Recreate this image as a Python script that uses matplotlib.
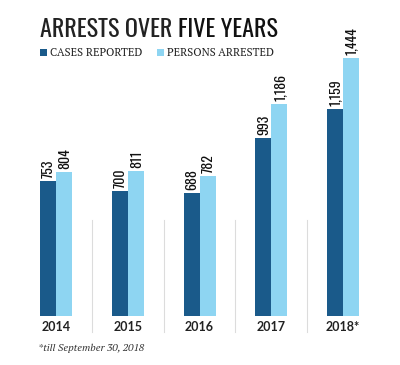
import matplotlib
matplotlib.use("Agg")
import matplotlib.pyplot as plt
from matplotlib import font_manager

# data
years = ["2014", "2015", "2016", "2017", "2018*"]
cases_reported = [753, 700, 688, 993, 1159]
persons_arrested = [804, 811, 782, 1186, 1444]
value_labels_cases = ["753", "700", "688", "993", "1,159"]
value_labels_arrested = ["804", "811", "782", "1,186", "1,444"]

DARK = "#1a5a8a"
LIGHT = "#8ed5f2"
SEP = "#dcdcdc"

INSTALLED = {f.name for f in font_manager.fontManager.ttflist}


def pick(*cands):
    for c in cands:
        if c in INSTALLED:
            return c
    return "DejaVu Sans"


COND = pick("Oswald", "Roboto Condensed", "Barlow Condensed", "PT Sans Narrow", "Archivo Narrow")
SERIF = pick("PT Serif", "Liberation Serif")
YEARF = pick("Lato", "Roboto", "Noto Sans")

W, H = 400, 365
fig = plt.figure(figsize=(W / 100, H / 100), dpi=100)

# axes placed in pixel terms: group 0 at x=56px, group 4 at x=343px, baseline at y=316px
unit = (343 - 56) / 4
x0 = 56 - 0.5 * unit
base = 316
ymax = 1600
ppu = 0.179
ax = fig.add_axes([x0 / W, (H - base) / H, 5 * unit / W, ymax * ppu / H])
ax.set_xlim(-0.5, 4.5)
ax.set_ylim(0, ymax)
ax.axis("off")

bw = 16 / unit
xs = list(range(len(years)))
ax.bar([x - bw / 2 for x in xs], cases_reported, width=bw, color=DARK, linewidth=0)
ax.bar([x + bw / 2 for x in xs], persons_arrested, width=bw, color=LIGHT, linewidth=0)

for x, v, t in zip(xs, cases_reported, value_labels_cases):
    ax.annotate(t, (x - bw / 2, v), xytext=(0.5, 2), textcoords="offset points",
                rotation=90, ha="center", va="bottom", fontsize=10, family=COND, color="#111111")
for x, v, t in zip(xs, persons_arrested, value_labels_arrested):
    ax.annotate(t, (x + bw / 2, v), xytext=(0.5, 2), textcoords="offset points",
                rotation=90, ha="center", va="bottom", fontsize=10, family=COND, color="#111111")

# thin separators between the year groups
for x in [0.5, 1.5, 2.5, 3.5]:
    ax.plot([x, x], [(base - 220) / ppu, -(332 - base) / ppu], color=SEP, lw=0.8, clip_on=False)

for x, y in zip(xs, years):
    ax.annotate(y, (x, 0), xytext=(0, -3.5), textcoords="offset points", ha="center", va="top",
                fontsize=9, fontweight="bold", family=YEARF, color="#222222",
                annotation_clip=False)

# title, fitted to the reference width (40px .. 278px)
fig.canvas.draw()
r = fig.canvas.get_renderer()
t1 = fig.text(40 / W, 1 - 37 / H, "ARRESTS OVER ", fontsize=20, family=COND, color="#222222")
t2 = fig.text(0, 1 - 37 / H, "FIVE YEARS", fontsize=20, family=COND, fontweight="bold", color="#111111")
w = t1.get_window_extent(r).width + t2.get_window_extent(r).width
fs = 20 * 238 / w
t1.set_fontsize(fs)
t2.set_fontsize(fs)
t2.set_x(t1.get_window_extent(r).x1 / W)

# legend
for lx, label, c in [(40, "CASES REPORTED", DARK), (157, "PERSONS ARRESTED", LIGHT)]:
    fig.patches.append(plt.Rectangle((lx / W, 1 - 56 / H), 7 / W, 7 / H, transform=fig.transFigure,
                                     color=c, lw=0))
    fig.text((lx + 10) / W, 1 - 56 / H, label, fontsize=8, family=SERIF, color="#222222")

fig.text(38 / W, 1 - 351 / H, "*till September 30, 2018", fontsize=7.5, style="italic",
         family=SERIF, color="#333333")

fig.savefig("out.png", dpi=100)
